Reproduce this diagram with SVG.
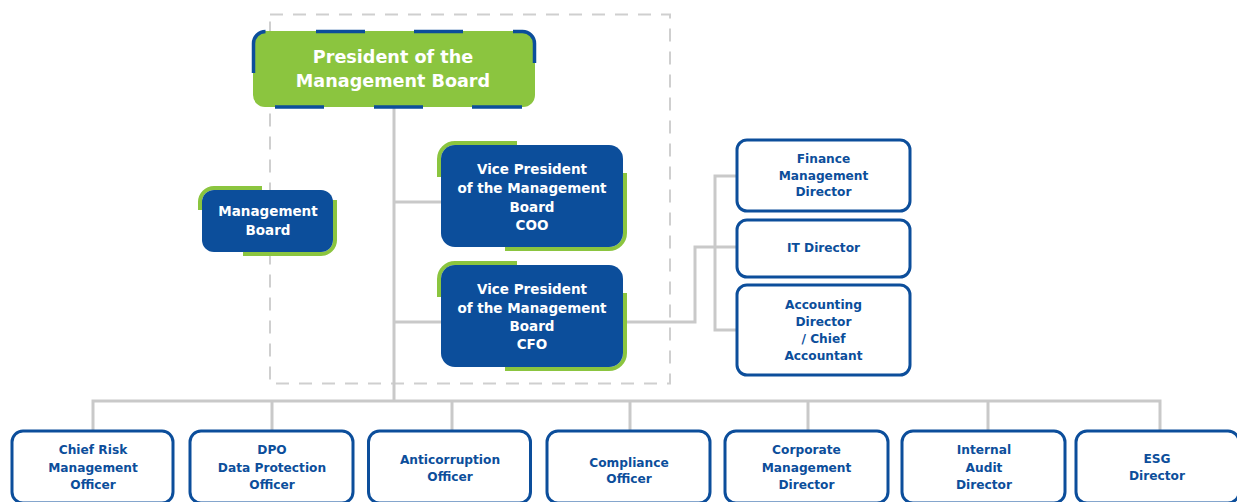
<svg xmlns="http://www.w3.org/2000/svg" width="1237" height="502" viewBox="0 0 1237 502">
  <style>
    .conn { fill: none; stroke: #c9c9c9; stroke-width: 3; }
    .frame { fill: none; stroke: #cfcfcf; stroke-width: 2; stroke-dasharray: 13 10; }
    .solid { fill: #0c4e9b; }
    .accent { fill: none; stroke: #8bc53f; stroke-width: 4; }
    .outline { fill: #ffffff; stroke: #0c4e9b; stroke-width: 3; }
    .edge { fill: none; stroke: #0c4e9b; stroke-width: 3.5; }
    text { font-family: "DejaVu Sans", "Liberation Sans", sans-serif; font-weight: bold; text-anchor: middle; }
    .w { fill: #ffffff; font-size: 13.5px; }
    .b { fill: #0c4e9b; font-size: 12.2px; }
    .big { fill: #ffffff; font-size: 17.6px; }
  </style>

  <!-- dashed frame around the board -->
  <rect class="frame" x="270" y="14.5" width="400" height="369"/>

  <g id="connectors">
    <path class="conn" d="M394,107 V401"/>
    <path class="conn" d="M394,202 H441"/>
    <path class="conn" d="M394,322 H441"/>
    <path class="conn" d="M623,322 H695 V247 H737"/>
    <path class="conn" d="M737,176 H715 V330 H737"/>
    <path class="conn" d="M93,431 V401 H1160 V431"/>
    <path class="conn" d="M272,401 V431 M452,401 V431 M630,401 V431 M808,401 V431 M988,401 V431"/>
  </g>

  <g id="president">
    <rect x="253" y="31" width="282" height="76" rx="12" fill="#8bc53f"/>
    <path class="edge" d="M253.5,73 V43.5 A12,12 0 0 1 265.5,31.5"/>
    <path class="edge" d="M316,31.5 H365 M414,31.5 H463"/>
    <path class="edge" d="M513,31.5 H522.5 A12,12 0 0 1 534.5,43.5 V63"/>
    <path class="edge" d="M275,107 H324 M374,107 H423 M472,107 H522"/>
    <text class="big" x="393" y="63">President of the</text>
    <text class="big" x="393" y="87">Management Board</text>
  </g>

  <g id="management-board">
    <path class="accent" d="M200,210 V202 A14,14 0 0 1 214,188 H262"/>
    <path class="accent" d="M335,200 V240 A14,14 0 0 1 321,254 H243"/>
    <rect class="solid" x="202" y="190" width="131" height="62" rx="12"/>
    <text class="w" x="268" y="216">Management</text>
    <text class="w" x="268" y="234.5">Board</text>
  </g>

  <g id="vp-coo">
    <path class="accent" d="M439,177 V159 A16,16 0 0 1 455,143 H517"/>
    <path class="accent" d="M625,173 V233 A16,16 0 0 1 609,249 H505"/>
    <rect class="solid" x="441" y="145" width="182" height="102" rx="14"/>
    <text class="w" x="532" y="174">Vice President</text>
    <text class="w" x="532" y="193">of the Management</text>
    <text class="w" x="532" y="211.5">Board</text>
    <text class="w" x="532" y="229.5">COO</text>
  </g>

  <g id="vp-cfo">
    <path class="accent" d="M439,297 V279 A16,16 0 0 1 455,263 H517"/>
    <path class="accent" d="M625,293 V353 A16,16 0 0 1 609,369 H505"/>
    <rect class="solid" x="441" y="265" width="182" height="102" rx="14"/>
    <text class="w" x="532" y="293.5">Vice President</text>
    <text class="w" x="532" y="312.5">of the Management</text>
    <text class="w" x="532" y="331">Board</text>
    <text class="w" x="532" y="348.5">CFO</text>
  </g>

  <g id="finance-director">
    <rect class="outline" x="737" y="140" width="173" height="71" rx="10"/>
    <text class="b" x="823.5" y="162.5">Finance</text>
    <text class="b" x="823.5" y="179.5">Management</text>
    <text class="b" x="823.5" y="196">Director</text>
  </g>

  <g id="it-director">
    <rect class="outline" x="737" y="220" width="173" height="57" rx="10"/>
    <text class="b" x="823.5" y="252">IT Director</text>
  </g>

  <g id="accounting-director">
    <rect class="outline" x="737" y="285" width="173" height="90" rx="10"/>
    <text class="b" x="823.5" y="308.5">Accounting</text>
    <text class="b" x="823.5" y="325.5">Director</text>
    <text class="b" x="823.5" y="342.5">/ Chief</text>
    <text class="b" x="823.5" y="359.5">Accountant</text>
  </g>

  <g id="chief-risk-officer">
    <rect class="outline" x="12" y="431" width="161" height="72" rx="11"/>
    <text class="b" x="93" y="454">Chief Risk</text>
    <text class="b" x="93" y="471.5">Management</text>
    <text class="b" x="93" y="488.5">Officer</text>
  </g>

  <g id="dpo">
    <rect class="outline" x="190" y="431" width="163" height="72" rx="11"/>
    <text class="b" x="272" y="454">DPO</text>
    <text class="b" x="272" y="471.5">Data Protection</text>
    <text class="b" x="272" y="488.5">Officer</text>
  </g>

  <g id="anticorruption-officer">
    <rect class="outline" x="368.5" y="431" width="162" height="72" rx="11"/>
    <text class="b" x="450" y="464">Anticorruption</text>
    <text class="b" x="450" y="481">Officer</text>
  </g>

  <g id="compliance-officer">
    <rect class="outline" x="547" y="431" width="163" height="72" rx="11"/>
    <text class="b" x="629" y="466.5">Compliance</text>
    <text class="b" x="629" y="483">Officer</text>
  </g>

  <g id="corporate-director">
    <rect class="outline" x="725" y="431" width="163" height="72" rx="11"/>
    <text class="b" x="806.5" y="454">Corporate</text>
    <text class="b" x="806.5" y="471.5">Management</text>
    <text class="b" x="806.5" y="488.5">Director</text>
  </g>

  <g id="internal-audit-director">
    <rect class="outline" x="902" y="431" width="163" height="72" rx="11"/>
    <text class="b" x="984" y="454">Internal</text>
    <text class="b" x="984" y="471.5">Audit</text>
    <text class="b" x="984" y="488.5">Director</text>
  </g>

  <g id="esg-director">
    <rect class="outline" x="1076" y="431" width="163" height="72" rx="11"/>
    <text class="b" x="1157" y="463">ESG</text>
    <text class="b" x="1157" y="480">Director</text>
  </g>
</svg>
